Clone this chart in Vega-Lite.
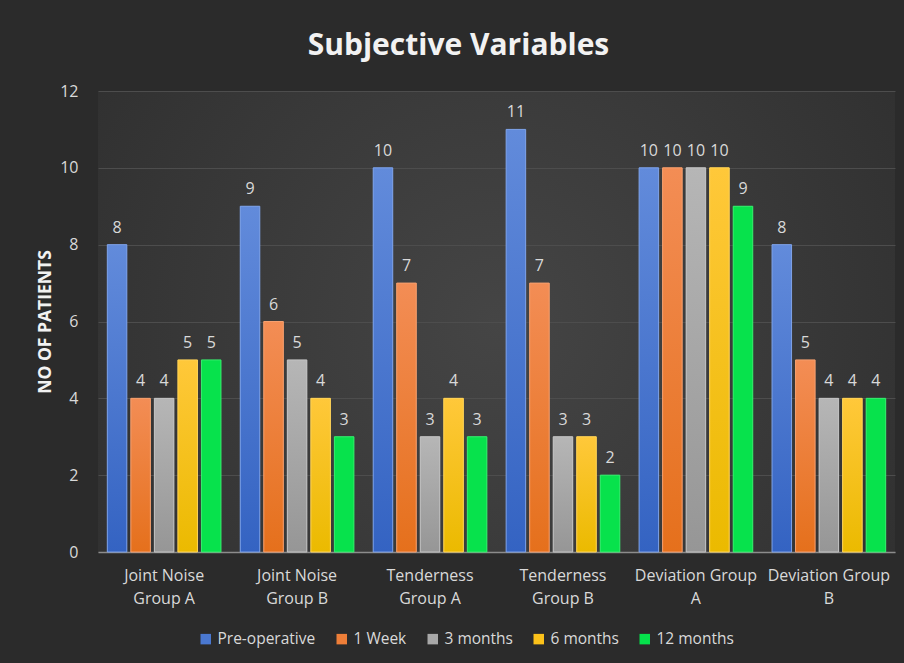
{
  "$schema": "https://vega.github.io/schema/vega-lite/v6.json",
  "width": 797,
  "height": 461,
  "autosize": {"type": "none"},
  "padding": {"left": 98, "top": 91, "right": 9, "bottom": 111},
  "background": "#2b2b2b",
  "title": {
    "text": "Subjective Variables",
    "font": "Open Sans",
    "fontSize": 30,
    "fontWeight": "bold",
    "color": "#f2f2f2",
    "offset": 22,
    "dx": -38,
    "anchor": "middle"
  },
  "data": {
    "values": [
      {"category": "Joint Noise Group A", "period": "Pre-operative", "patients": 8},
      {"category": "Joint Noise Group A", "period": "1 Week", "patients": 4},
      {"category": "Joint Noise Group A", "period": "3 months", "patients": 4},
      {"category": "Joint Noise Group A", "period": "6 months", "patients": 5},
      {"category": "Joint Noise Group A", "period": "12 months", "patients": 5},
      {"category": "Joint Noise Group B", "period": "Pre-operative", "patients": 9},
      {"category": "Joint Noise Group B", "period": "1 Week", "patients": 6},
      {"category": "Joint Noise Group B", "period": "3 months", "patients": 5},
      {"category": "Joint Noise Group B", "period": "6 months", "patients": 4},
      {"category": "Joint Noise Group B", "period": "12 months", "patients": 3},
      {"category": "Tenderness Group A", "period": "Pre-operative", "patients": 10},
      {"category": "Tenderness Group A", "period": "1 Week", "patients": 7},
      {"category": "Tenderness Group A", "period": "3 months", "patients": 3},
      {"category": "Tenderness Group A", "period": "6 months", "patients": 4},
      {"category": "Tenderness Group A", "period": "12 months", "patients": 3},
      {"category": "Tenderness Group B", "period": "Pre-operative", "patients": 11},
      {"category": "Tenderness Group B", "period": "1 Week", "patients": 7},
      {"category": "Tenderness Group B", "period": "3 months", "patients": 3},
      {"category": "Tenderness Group B", "period": "6 months", "patients": 3},
      {"category": "Tenderness Group B", "period": "12 months", "patients": 2},
      {"category": "Deviation Group A", "period": "Pre-operative", "patients": 10},
      {"category": "Deviation Group A", "period": "1 Week", "patients": 10},
      {"category": "Deviation Group A", "period": "3 months", "patients": 10},
      {"category": "Deviation Group A", "period": "6 months", "patients": 10},
      {"category": "Deviation Group A", "period": "12 months", "patients": 9},
      {"category": "Deviation Group B", "period": "Pre-operative", "patients": 8},
      {"category": "Deviation Group B", "period": "1 Week", "patients": 5},
      {"category": "Deviation Group B", "period": "3 months", "patients": 4},
      {"category": "Deviation Group B", "period": "6 months", "patients": 4},
      {"category": "Deviation Group B", "period": "12 months", "patients": 4}
    ]
  },
  "encoding": {
    "x": {
      "field": "category",
      "type": "nominal",
      "sort": null,
      "scale": {"paddingInner": 0.145, "paddingOuter": 0.07},
      "axis": {
        "title": null,
        "labelAngle": 0,
        "labelColor": "#d9d9d9",
        "labelFont": "Open Sans",
        "labelFontSize": 16,
        "labelLineHeight": 23,
        "labelPadding": 15,
        "ticks": false,
        "domainColor": "#8c8c8c",
        "domainWidth": 1.5,
        "labelExpr": "indexof(datum.value,'Deviation')==0 ? [substring(datum.value,0,15), substring(datum.value,16)] : [substring(datum.value,0,indexof(datum.value,' Group')), substring(datum.value,indexof(datum.value,' Group')+1)]"
      }
    },
    "xOffset": {
      "field": "period",
      "type": "nominal",
      "sort": ["Pre-operative", "1 Week", "3 months", "6 months", "12 months"],
      "scale": {"domain": ["Pre-operative", "1 Week", "3 months", "6 months", "12 months"], "paddingInner": 0.17, "paddingOuter": 0}
    },
    "y": {
      "field": "patients",
      "type": "quantitative",
      "scale": {"domain": [0, 12]},
      "axis": {
        "title": "NO OF PATIENTS",
        "titleColor": "#f2f2f2",
        "titleFont": "Open Sans",
        "titleFontSize": 17.5,
        "titleFontWeight": "bold",
        "titlePadding": 5,
        "values": [0, 2, 4, 6, 8, 10, 12],
        "labelColor": "#d9d9d9",
        "labelFont": "Open Sans",
        "labelFontSize": 16,
        "labelPadding": 20,
        "ticks": false,
        "domain": false,
        "gridColor": "#4d4d4d",
        "gridWidth": 1.2
      }
    }
  },
  "layer": [
    {
      "mark": {"type": "bar", "strokeWidth": 0},
      "encoding": {
        "color": {
          "field": "period",
          "type": "nominal",
          "sort": ["Pre-operative", "1 Week", "3 months", "6 months", "12 months"],
          "scale": {
            "domain": ["Pre-operative", "1 Week", "3 months", "6 months", "12 months"],
            "range": ["#4a78d0", "#ee7e38", "#a8a8a8", "#fcc21a", "#05e14b"]
          },
          "legend": {
            "title": null,
            "orient": "none",
            "legendX": 100,
            "legendY": 540,
            "direction": "horizontal",
            "symbolType": "square",
            "symbolSize": 110,
            "symbolStrokeWidth": 0,
            "labelColor": "#d9d9d9",
            "labelFont": "Open Sans",
            "labelFontSize": 15.5,
            "labelOffset": 4,
            "columnPadding": 18
          }
        }
      }
    },
    {
      "transform": [{"filter": "datum.period == 'Pre-operative'"}],
      "mark": {"type": "bar", "stroke": "#7fa2e6", "strokeWidth": 1, "fill": {"gradient": "linear", "x1": 0, "y1": 0, "x2": 0, "y2": 1, "stops": [{"offset": 0, "color": "#628bdb"}, {"offset": 1, "color": "#3463c2"}]}}
    },
    {
      "transform": [{"filter": "datum.period == '1 Week'"}],
      "mark": {"type": "bar", "stroke": "#f5a070", "strokeWidth": 1, "fill": {"gradient": "linear", "x1": 0, "y1": 0, "x2": 0, "y2": 1, "stops": [{"offset": 0, "color": "#f38d55"}, {"offset": 1, "color": "#e5701c"}]}}
    },
    {
      "transform": [{"filter": "datum.period == '3 months'"}],
      "mark": {"type": "bar", "stroke": "#c4c4c4", "strokeWidth": 1, "fill": {"gradient": "linear", "x1": 0, "y1": 0, "x2": 0, "y2": 1, "stops": [{"offset": 0, "color": "#b6b6b6"}, {"offset": 1, "color": "#969696"}]}}
    },
    {
      "transform": [{"filter": "datum.period == '6 months'"}],
      "mark": {"type": "bar", "stroke": "#ffd45a", "strokeWidth": 1, "fill": {"gradient": "linear", "x1": 0, "y1": 0, "x2": 0, "y2": 1, "stops": [{"offset": 0, "color": "#ffc83a"}, {"offset": 1, "color": "#ebba00"}]}}
    },
    {
      "transform": [{"filter": "datum.period == '12 months'"}],
      "mark": {"type": "bar", "stroke": "#3aeb6f", "strokeWidth": 1, "fill": "#07e24c"}
    },
    {
      "mark": {"type": "text", "baseline": "bottom", "dy": -9, "color": "#d9d9d9", "font": "Open Sans", "fontSize": 16},
      "encoding": {
        "text": {"field": "patients", "type": "quantitative"}
      }
    }
  ],
  "config": {
    "view": {
      "stroke": null,
      "fill": {"gradient": "radial", "x1": 0.5, "y1": 0.5, "r1": 0, "x2": 0.5, "y2": 0.5, "r2": 0.75, "stops": [{"offset": 0, "color": "#454545"}, {"offset": 1, "color": "#2b2b2b"}]}
    }
  }
}
